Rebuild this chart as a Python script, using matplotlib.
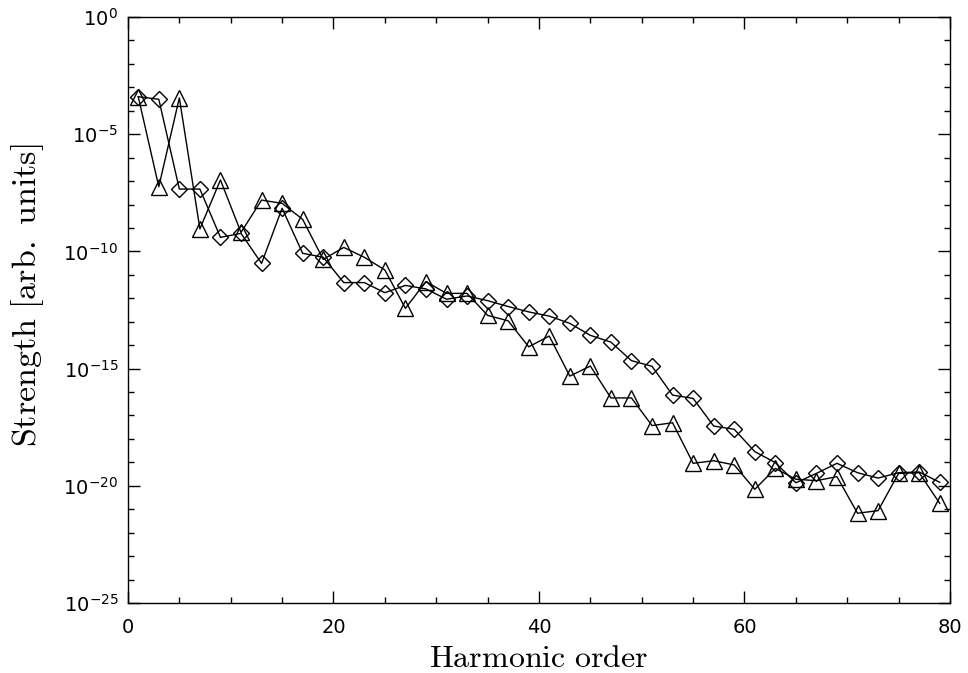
import numpy as np
import matplotlib
matplotlib.use("Agg")
import matplotlib.pyplot as plt
from matplotlib.ticker import FixedLocator, FixedFormatter

plt.rcParams['mathtext.fontset'] = 'cm'
plt.rcParams['font.family'] = ['DejaVu Sans']

# Harmonic orders (odd harmonics 1..79)
harmonic = np.arange(1, 80, 2)

# log10 of strength
log_diamond = [-3.40, -3.51, -7.34, -7.34, -9.40, -9.23, -10.51, -8.16, -10.08, -10.25,
               -11.33, -11.33, -11.76, -11.45, -11.60, -12.04, -11.90, -12.10, -12.35, -12.58,
               -12.76, -13.07, -13.58, -13.87, -14.66, -14.90, -16.13, -16.27, -17.45, -17.59,
               -18.54, -19.01, -19.87, -19.47, -19.04, -19.44, -19.67, -19.44, -19.41, -19.85]
log_triangle = [-3.40, -7.24, -3.45, -9.04, -6.95, -9.19, -7.81, -7.95, -8.63, -10.34,
                -9.83, -10.25, -10.79, -12.43, -11.29, -11.79, -11.79, -12.73, -12.96, -14.07,
                -13.61, -15.32, -14.89, -16.25, -16.25, -17.43, -17.31, -19.04, -18.93, -19.11,
                -20.15, -19.26, -19.72, -19.78, -19.61, -21.17, -21.06, -19.47, -19.44, -20.75]

y_major = [0, -5, -10, -15, -20, -25]

fig = plt.figure(figsize=(9.68, 6.73), dpi=100)
ax = fig.add_axes([0.1322, 0.104, 0.8492, 0.8707])

ax.plot(harmonic, 10.0 ** np.array(log_diamond), color='black', lw=1,
        marker='D', ms=8.5, mfc='none', mec='black', mew=1)
ax.plot(harmonic, 10.0 ** np.array(log_triangle), color='black', lw=1,
        marker='^', ms=11, mfc='none', mec='black', mew=1)

ax.set_yscale('log')
ax.set_xlim(0, 80)
ax.set_ylim(1e-25, 1e0)

ax.xaxis.set_major_locator(FixedLocator([0, 20, 40, 60, 80]))
ax.xaxis.set_minor_locator(FixedLocator(np.arange(0, 81, 5)))
ax.yaxis.set_major_locator(FixedLocator([10.0 ** e for e in y_major]))
ax.yaxis.set_major_formatter(FixedFormatter([r'$\mathdefault{10^{%d}}$' % e for e in y_major]))
ax.yaxis.set_minor_locator(FixedLocator([10.0 ** e for e in range(-25, 1)]))
ax.yaxis.set_minor_formatter(FixedFormatter([]))

ax.tick_params(which='both', direction='in', top=True, right=True, labelsize=14, width=1)
ax.tick_params(which='major', length=8.5)
ax.tick_params(axis='x', which='major', pad=11)
ax.tick_params(axis='y', which='major', pad=7)
ax.tick_params(which='minor', length=4.3)
for s in ax.spines.values():
    s.set_linewidth(1)

ax.set_xlabel(r'$\mathrm{Harmonic\ order}$', fontsize=23, labelpad=4)
ax.set_ylabel(r'$\mathrm{Strength\ [arb.\ units]}$', fontsize=24.5)
ax.yaxis.set_label_coords(-0.10, 0.526)

fig.savefig('out.png', dpi=100)
